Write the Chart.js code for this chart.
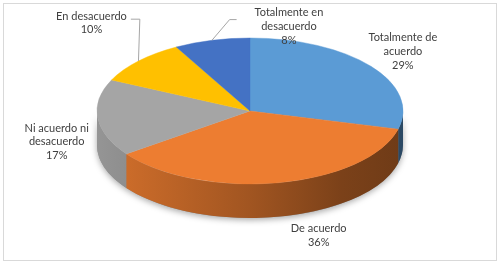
<!DOCTYPE html>
<html>
<head>
<meta charset="utf-8">
<script src="https://cdn.jsdelivr.net/npm/chart.js@4.4.1/dist/chart.umd.min.js"></script>
<style>
html,body{margin:0;padding:0;background:#fff;}
canvas{display:block;}
</style>
</head>
<body>
<canvas id="myChart" width="500" height="263"></canvas>
<script>
'use strict';

let categories=['Totalmente de acuerdo','De acuerdo','Ni acuerdo ni desacuerdo','En desacuerdo','Totalmente en desacuerdo'];
let values=[29,36,17,10,8];
let colors=['#5B9BD5','#ED7D31','#A5A5A5','#FFC000','#4472C4'];

// where each label sits, relative to the rim point at the middle of its slice
let labelNudge=[[32,-15],[40,53],[-41,24],[-47,-38],[77,-14]];
// leader lines for the two small slices (gap to text, horizontal run, y offset)
let leaders=[null,null,null,{gap:4,run:9,dy:3},{gap:18,run:7,dy:7}];

function shade(hex,f){
    let n=parseInt(hex.slice(1),16);
    let r=Math.round(((n>>16)&255)*f);
    let g=Math.round(((n>>8)&255)*f);
    let b=Math.round((n&255)*f);
    return `rgb(${r},${g},${b})`;
}

function wrap(ctx,text,maxW){
    let words=text.split(' ');
    let lines=[];
    let cur='';
    for(let i=0;i<words.length;i++){
        let test=cur?cur+' '+words[i]:words[i];
        if(cur && ctx.measureText(test).width>maxW){
            lines.push(cur);
            cur=words[i];
        }else{
            cur=test;
        }
    }
    if(cur) lines.push(cur);
    return lines;
}

////////////////////////////// fake 3d pie plugin //////////////////////////////
let pie3d={
    id:'pie3d',
    beforeDraw(chart){
        let ctx=chart.ctx;
        ctx.save();
        ctx.fillStyle='#fff';
        ctx.fillRect(0,0,chart.width,chart.height);
        ctx.strokeStyle='#d9d9d9';
        ctx.lineWidth=1;
        ctx.strokeRect(3.5,3.5,493,257);
        ctx.restore();
    },
    beforeDatasetsDraw(chart,args,opts){
        let ctx=chart.ctx;
        let arcs=chart.getDatasetMeta(0).data;
        let R=arcs[0].outerRadius, x=arcs[0].x, y=arcs[0].y;
        ctx.save();
        ctx.translate(opts.cx,opts.cy);
        ctx.scale(opts.rx/R,opts.ry/R);
        ctx.translate(-x,-y);
        let D=opts.depth*R/opts.ry;

        // soft shadow under the whole front wall
        ctx.save();
        ctx.shadowColor='rgba(0,0,0,0.35)';
        ctx.shadowBlur=6;
        ctx.shadowOffsetY=2;
        ctx.beginPath();
        ctx.arc(x,y,R,0,Math.PI);
        ctx.arc(x,y+D,R,Math.PI,0,true);
        ctx.closePath();
        ctx.fillStyle='#888';
        ctx.fill();
        ctx.restore();

        // walls of each slice, only the front half shows
        arcs.forEach((arc,i)=>{
            let a1=Math.max(arc.startAngle,0);
            let a2=Math.min(arc.endAngle,Math.PI);
            if(a2<=a1) return;
            let g=ctx.createLinearGradient(x-R,0,x+R,0);
            g.addColorStop(0,shade(colors[i],0.9));
            g.addColorStop(0.5,shade(colors[i],0.68));
            g.addColorStop(0.8,shade(colors[i],0.52));
            g.addColorStop(1,shade(colors[i],0.47));
            ctx.beginPath();
            ctx.arc(x,y,R,a1,a2);
            ctx.arc(x,y+D,R,a2,a1,true);
            ctx.closePath();
            ctx.fillStyle=g;
            ctx.fill();
        });
    },
    afterDatasetsDraw(chart){
        chart.ctx.restore();
    },
    afterDraw(chart,args,opts){
        let ctx=chart.ctx;
        let arcs=chart.getDatasetMeta(0).data;
        let total=values.reduce((s,v)=>s+v,0);
        ctx.save();
        ctx.font='11px Lato';
        ctx.fillStyle='#404040';
        ctx.textAlign='center';
        ctx.textBaseline='middle';
        arcs.forEach((arc,i)=>{
            let m=(arc.startAngle+arc.endAngle)/2;
            let px=opts.cx+opts.rx*Math.cos(m);
            let py=opts.cy+opts.ry*Math.sin(m);
            let lines=wrap(ctx,categories[i],opts.wrapWidth);
            lines.push(Math.round(values[i]/total*100)+'%');
            let lx=px+labelNudge[i][0];
            let ly=py+labelNudge[i][1];
            let lh=13.7;
            let top=ly-(lines.length-1)*lh/2;
            lines.forEach((t,k)=>ctx.fillText(t,lx,top+k*lh));

            let L=leaders[i];
            if(L){
                let w=Math.max(...lines.map(t=>ctx.measureText(t).width));
                let endX, elbowX;
                if(lx<px){
                    endX=lx+w/2+L.gap;
                    elbowX=endX+L.run;
                }else{
                    endX=lx-w/2-L.gap;
                    elbowX=endX-L.run;
                }
                let yy=top+L.dy;
                ctx.save();
                ctx.strokeStyle='#a6a6a6';
                ctx.lineWidth=1;
                ctx.beginPath();
                ctx.moveTo(px,py);
                ctx.lineTo(elbowX,yy);
                ctx.lineTo(endX,yy);
                ctx.stroke();
                ctx.restore();
            }
        });
        ctx.restore();
    }
};

let ctx=document.getElementById('myChart');
let myChart=new Chart(ctx,{
    type:'pie',
    data:{
        labels:categories,
        datasets:[{
            data:values,
            backgroundColor:colors,
            borderColor:colors,
            borderWidth:0.5,
            clip:false
        }]
    },
    options:{
        responsive:false,
        animation:false,
        events:[],
        plugins:{
            legend:{display:false},
            tooltip:{enabled:false},
            pie3d:{cx:250,cy:111,rx:153,ry:73,depth:34,wrapWidth:76}
        }
    },
    plugins:[pie3d]
});
</script>
</body>
</html>
